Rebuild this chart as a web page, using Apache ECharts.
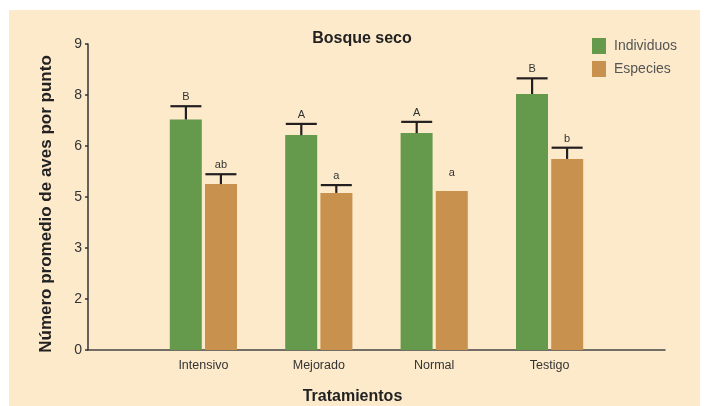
<!DOCTYPE html>
<html>
<head>
<meta charset="utf-8">
<script src="https://cdn.jsdelivr.net/npm/echarts@6/dist/echarts.min.js"></script>
<style>
  html, body { margin: 0; padding: 0; background: #ffffff; }
  #bg { position: absolute; left: 9px; top: 10px; right: 4px; bottom: 0; background: #fdeacb; }
  #chart { position: absolute; left: 0; top: 0; width: 704px; height: 406px; }
</style>
</head>
<body>
<div id="bg"></div>
<div id="chart"></div>
<script>
// categorias (con huecos vacios a los lados para el eje)
const categories = ["", "Intensivo", "Mejorado", "Normal", "Testigo", ""];
const individuos = [null, 6.78, 6.32, 6.38, 7.53, null];
const individuosErr = [null, 7.17, 6.65, 6.71, 7.99, null];
const individuosLetra = ["", "B", "A", "A", "B", ""];
const especies = [null, 4.88, 4.62, 4.68, 5.62, null];
const especiesErr = [null, 5.17, 4.85, null, 5.95, null];
const especiesLetra = ["", "ab", "a", "a", "b", ""];
const yTicks = [0, 1.5, 3, 4.5, 6, 7.5, 9];

const verde = "#659a4c";
const naranja = "#c8914e";
const barW = 32;
const shift = 17.5;

function errData(vals, errs, letras) {
  let out = [];
  vals.forEach((v, i) => {
    if (v == null) return;
    out.push([i, v, errs[i] == null ? "-" : errs[i], letras[i]]);
  });
  return out;
}

function errSeries(name, data, dx) {
  return {
    name: name + "_err",
    type: "custom",
    z: 5,
    clip: false,
    silent: true,
    encode: { x: 0, y: [1, 2] },
    data: data,
    renderItem: (params, api) => {
      const base = api.coord([api.value(0), api.value(1)]);
      const err = api.value(2);
      const x = base[0] + dx;
      const children = [];
      let capY;
      if (isNaN(err)) {
        capY = api.coord([api.value(0), api.value(1) + 0.25])[1];
      } else {
        capY = api.coord([api.value(0), err])[1];
        const st = { stroke: "#231f20", lineWidth: 2.2 };
        children.push({ type: "line", shape: { x1: x, y1: base[1], x2: x, y2: capY }, style: st });
        children.push({ type: "line", shape: { x1: x - 15.5, y1: capY, x2: x + 15.5, y2: capY }, style: st });
      }
      children.push({
        type: "text",
        x: x,
        y: capY - 9,
        style: {
          text: data[params.dataIndex][3],
          fill: "#333",
          font: "11px Liberation Sans, Arial, sans-serif",
          align: "center",
          verticalAlign: "middle",
        },
      });
      return { type: "group", children: children };
    },
  };
}

const myChart = echarts.init(document.getElementById("chart"));
const option = {
  backgroundColor: "transparent",
  animation: false,
  textStyle: { fontFamily: "Liberation Sans, Arial, sans-serif" },
  title: {
    text: "Bosque seco",
    left: 362,
    top: 31,
    padding: 0,
    textAlign: "center",
    textStyle: { fontSize: 16, fontWeight: "bold", color: "#222" },
  },
  legend: {
    orient: "vertical",
    left: 592,
    top: 38,
    padding: 0,
    icon: "rect",
    itemWidth: 14,
    itemHeight: 16,
    itemGap: 7,
    data: ["Individuos", "Especies"],
    textStyle: { fontSize: 14, color: "#555", padding: [0, 0, 0, 3] },
  },
  grid: { left: 88, right: 39, top: 44, bottom: 56, outerBoundsMode: "none" },
  xAxis: {
    type: "category",
    data: categories,
    boundaryGap: false,
    name: "Tratamientos",
    nameLocation: "middle",
    nameGap: 39,
    nameTextStyle: { fontSize: 16, fontWeight: "bold", color: "#222", padding: [0, 48, 0, 0] },
    axisLine: { lineStyle: { color: "#444", width: 1.5 } },
    axisTick: { show: false },
    axisLabel: { color: "#333", fontSize: 12.5, margin: 9 },
  },
  yAxis: {
    type: "value",
    min: yTicks[0],
    max: yTicks[yTicks.length - 1],
    interval: 1.5,
    name: "Número promedio de aves por punto",
    nameLocation: "middle",
    nameGap: 33,
    nameTextStyle: { fontSize: 17, fontWeight: "bold", color: "#222", padding: [0, 14, 0, 0] },
    axisLine: { show: true, lineStyle: { color: "#333", width: 1.5 } },
    axisTick: { show: true, length: 3, lineStyle: { color: "#333", width: 1.5 } },
    axisLabel: { color: "#333", fontSize: 14, margin: 6, formatter: (v) => Math.round(v) },
    splitLine: { show: false },
  },
  series: [
    {
      name: "Individuos",
      type: "bar",
      barWidth: barW,
      barGap: "10%",
      itemStyle: { color: verde },
      data: individuos,
    },
    {
      name: "Especies",
      type: "bar",
      barWidth: barW,
      barGap: "10%",
      itemStyle: { color: naranja },
      data: especies,
    },
    errSeries("Individuos", errData(individuos, individuosErr, individuosLetra), -shift),
    errSeries("Especies", errData(especies, especiesErr, especiesLetra), shift),
  ],
};
myChart.setOption(option);
</script>
</body>
</html>
